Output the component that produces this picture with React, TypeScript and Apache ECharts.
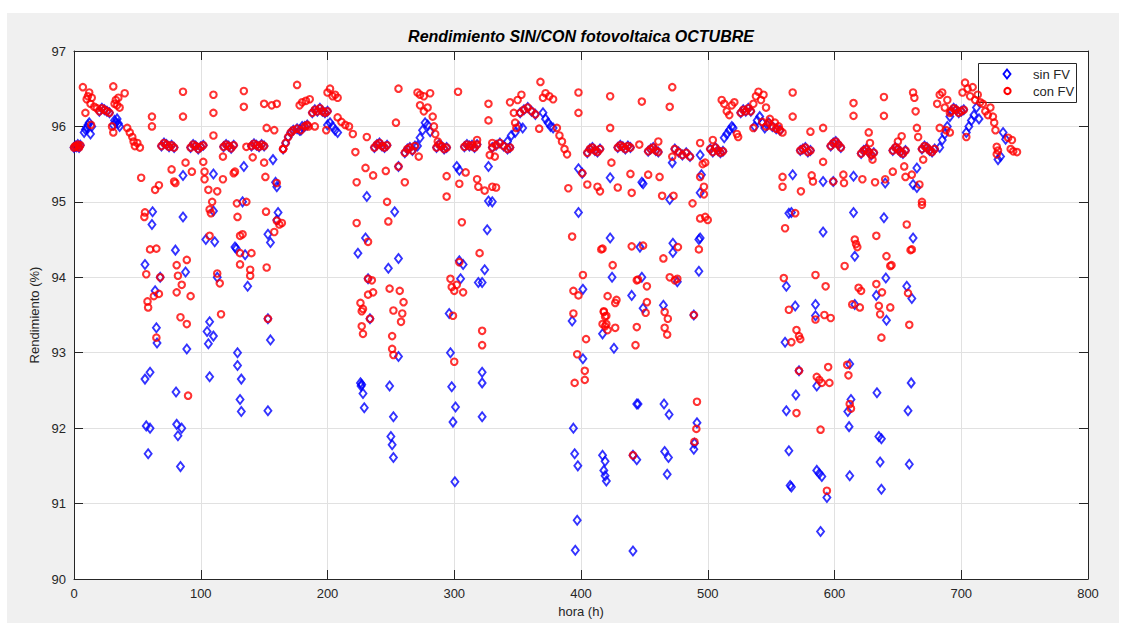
import React, { useEffect, useRef } from "react";
import * as echarts from "echarts";

// Axis definition
const X_MIN = 0, X_MAX = 800, X_STEP = 100;
const Y_MIN = 90, Y_MAX = 97, Y_STEP = 1;

const TITLE = "Rendimiento SIN/CON fotovoltaica OCTUBRE";
const X_NAME = "hora (h)";
const Y_NAME = "Rendimiento (%)";
const SERIES_NAMES = ["sin FV", "con FV"];

// Night-time hours: both series share the same value [hour, %]
const nocturno: [number, number][] = [
  [0, 95.72], [1, 95.74], [2, 95.73], [3, 95.76], [4, 95.72], [5, 95.75],
  [20, 96.2], [22, 96.24], [24, 96.22], [26, 96.2], [28, 96.18],
  [69, 95.74], [71, 95.78], [73, 95.76], [75, 95.73], [77, 95.75], [79, 95.72],
  [92, 95.72], [94, 95.76], [96, 95.74], [98, 95.7], [100, 95.73], [102, 95.75],
  [118, 95.73], [120, 95.76], [122, 95.74], [124, 95.71], [126, 95.75],
  [140, 95.74], [142, 95.77], [144, 95.75], [146, 95.73], [148, 95.76], [150, 95.74],
  [165, 95.7], [167, 95.78], [169, 95.86], [171, 95.92], [173, 95.95], [176, 95.97], [179, 95.95], [182, 96.0], [184, 96.02],
  [188, 96.18], [190, 96.22], [192, 96.2], [194, 96.24], [196, 96.2], [198, 96.18], [200, 96.2],
  [237, 95.72], [239, 95.76], [241, 95.78], [243, 95.74], [245, 95.72], [247, 95.75],
  [261, 95.65], [263, 95.7], [265, 95.72], [267, 95.68], [269, 95.74],
  [286, 95.72], [288, 95.76], [290, 95.74], [292, 95.7], [294, 95.72],
  [308, 95.73], [310, 95.76], [312, 95.74], [314, 95.75], [316, 95.72], [318, 95.76],
  [330, 95.72], [333, 95.75], [336, 95.78], [339, 95.74], [342, 95.7], [344, 95.72],
  [352, 96.18], [355, 96.22], [358, 96.25], [361, 96.2], [364, 96.16],
  [405, 95.65], [407, 95.7], [409, 95.72], [411, 95.68], [413, 95.66], [415, 95.7],
  [429, 95.72], [431, 95.75], [433, 95.73], [435, 95.7], [437, 95.74], [439, 95.72],
  [453, 95.67], [455, 95.7], [457, 95.72], [459, 95.68], [461, 95.66],
  [474, 95.7], [477, 95.66], [480, 95.62], [483, 95.65], [486, 95.6],
  [502, 95.7], [504, 95.66], [506, 95.72], [508, 95.68], [510, 95.65], [512, 95.67],
  [526, 96.18], [528, 96.22], [530, 96.2], [532, 96.24], [534, 96.2],
  [548, 96.05], [551, 96.0], [554, 95.97], [557, 95.95],
  [573, 95.68], [575, 95.7], [577, 95.72], [579, 95.66], [581, 95.68],
  [597, 95.74], [599, 95.78], [601, 95.8], [603, 95.76], [605, 95.72],
  [621, 95.64], [623, 95.68], [625, 95.7], [627, 95.66], [629, 95.62], [631, 95.65],
  [646, 95.68], [648, 95.72], [650, 95.7], [652, 95.66], [654, 95.64], [656, 95.68],
  [669, 95.7], [671, 95.74], [673, 95.72], [675, 95.68], [677, 95.66], [679, 95.7],
  [692, 96.2], [694, 96.24], [696, 96.22], [698, 96.18], [700, 96.2], [702, 96.22],
];

// Daytime values without photovoltaics (blue)
const sinFVDia: [number, number][] = [
  [8, 95.92], [9, 95.96], [10, 95.98], [11, 96.02], [12, 96.05], [13, 95.9], [14, 96.0],
  [31, 96.02], [32, 96.08], [33, 96.05], [34, 96.1], [35, 96.04], [36, 96.0],
  [62, 94.87], [61.5, 94.7], [56, 94.17], [68, 94.0], [64, 93.82], [65, 93.33], [65.5, 93.13],
  [56, 92.65], [60, 92.74], [57, 92.03], [60, 92.0], [58.5, 91.66],
  [86, 95.35], [86, 94.8], [80, 94.36], [88, 94.07], [89, 93.05], [80.5, 92.48], [81, 92.05], [85, 92.0], [82, 91.9], [84, 91.49],
  [110, 95.37], [110, 94.88], [104, 94.5], [111, 94.47], [113, 94.0], [107, 93.41], [105, 93.28], [110, 93.22], [106, 93.12], [107, 92.68],
  [127, 94.4], [134, 95.47], [133, 95.0], [128, 94.38], [135, 94.3], [137, 93.88], [129, 93.0], [129, 92.83], [132, 92.65], [131, 92.38], [132, 92.22],
  [157, 95.56], [159, 95.26], [160, 95.2], [153, 94.57], [155, 94.46], [161, 94.86], [160, 94.76], [153, 93.45], [155, 93.17], [153, 92.23],
  [178, 95.95], [180, 96.0], [200, 96.02], [202, 96.05], [204, 96.0], [206, 95.95], [208, 95.92],
  [231, 95.07], [230, 94.52], [253, 94.87], [224, 94.32], [256, 94.25], [248, 94.12], [232, 93.98], [233.5, 93.45], [256, 92.95],
  [226, 92.6], [226.5, 92.56], [227, 92.58], [228, 92.46], [229, 92.27], [249, 92.56], [252, 92.15], [250, 91.89], [251, 91.78], [252, 91.61],
  [256, 95.47], [271, 95.74], [273, 95.85], [275, 95.95], [277, 96.05], [279, 96.02], [281, 95.93],
  [302, 95.47], [304, 95.42], [304, 94.22], [307, 94.17], [305, 93.98], [319, 93.93], [322, 93.93], [324, 94.1], [296, 93.52], [297, 93.0],
  [322, 92.74], [322, 92.6], [298, 92.55], [301, 92.28], [299, 92.08], [322, 92.15], [300.5, 91.29],
  [326, 94.63], [327, 95.01], [330, 95.0], [327, 95.47], [342, 95.8], [345, 95.88], [348, 95.92], [351, 96.0], [354, 95.98],
  [370, 96.18], [372, 96.1], [374, 96.05], [376, 96.0], [378, 95.98],
  [398, 95.44], [401, 95.38], [398, 94.86], [401.5, 93.84], [393, 93.42], [401.5, 92.92], [394, 92.0], [395, 91.66], [397.5, 91.5], [397, 90.78], [395.5, 90.38],
  [417, 93.25], [423, 95.32], [423, 94.52], [424.5, 94.0], [426, 93.06], [417, 91.64], [419, 91.56], [418, 91.44], [419, 91.37], [420, 91.3],
  [440, 93.76], [446.5, 94.4], [448, 94.0], [449, 93.59], [448, 95.26], [449, 95.24], [444, 92.32], [445, 92.32], [441, 91.64], [444, 91.58], [441, 90.37],
  [470, 95.03], [472, 95.52], [472.5, 94.45], [472.5, 94.33], [476, 93.94], [465, 93.63], [465.5, 92.32], [469.5, 92.18], [466, 91.69], [469, 91.61], [468, 91.39],
  [494, 95.62], [495, 95.36], [494, 95.12], [493, 94.5], [494, 94.52], [493, 94.08], [489, 93.5], [491.5, 92.07], [489.5, 91.8], [489, 91.72],
  [513, 95.85], [515, 95.9], [517, 95.95], [519, 96.0], [520, 95.98],
  [537, 96.0], [539, 96.08], [541, 96.13], [543, 96.05], [545, 95.98], [547, 96.02],
  [564, 94.85], [567, 95.36], [566, 94.86], [562, 93.88], [569, 93.62], [561, 93.14], [585, 93.64], [585, 93.49], [586, 92.56], [569.5, 92.44],
  [562, 92.23], [564, 91.7], [586, 91.44], [588, 91.4], [590, 91.36], [565, 91.24], [566, 91.22], [594, 91.08], [589, 90.63],
  [591, 95.27], [599, 95.27], [591, 94.6], [572, 92.76],
  [615, 95.34], [615, 94.86], [616, 94.28], [640, 95.25], [639, 94.79], [640.5, 93.99], [633, 93.76], [616, 93.64], [641, 93.43], [633.5, 92.47],
  [613, 92.38], [610.5, 92.22], [611.5, 92.02], [612, 91.37], [635, 91.89], [637, 91.86], [636, 91.55], [637, 91.19], [612, 92.85],
  [662, 95.23], [665, 95.19], [665, 95.45], [662, 94.52], [657, 93.88], [661, 93.72], [660.5, 92.6], [658, 92.23], [659, 91.52],
  [683, 95.72], [685, 95.82], [687, 95.9], [689, 96.0], [691, 96.13],
  [704, 95.92], [706, 96.0], [708, 96.08], [710, 96.15], [712, 96.25], [714, 96.1],
  [733, 95.92], [735, 95.83], [729, 95.56], [731, 95.6],
];

// Daytime values with photovoltaics (red)
const conFVDia: [number, number][] = [
  [7, 96.52], [9, 96.18], [10, 96.36], [11, 96.4], [12, 96.45], [13, 96.3], [14, 96.38], [13.5, 96.02], [16, 96.26], [18, 96.24],
  [30, 96.0], [31, 95.92], [31, 96.53], [32, 96.3], [33, 96.35], [34, 96.28], [35, 96.38], [36, 96.25], [40, 96.44],
  [42, 95.98], [44, 95.92], [46, 95.86], [47, 95.8], [48, 95.74], [50, 95.78], [52, 95.72],
  [53, 95.32], [56, 94.86], [55.5, 94.8], [61.5, 96.0], [61.5, 96.13], [64, 95.16], [67, 95.22], [60, 94.37], [65, 94.38],
  [57, 94.04], [68, 94.0], [67, 93.78], [63, 93.75], [58, 93.68], [58.5, 93.6], [65, 93.2],
  [77, 95.43], [79, 95.27], [80, 95.25], [86, 96.46], [86, 96.13], [88, 95.52], [93, 95.4], [81, 94.16], [89, 94.23],
  [82, 94.02], [85, 93.9], [81, 93.8], [92, 93.75], [84, 93.47], [89, 93.38], [90, 92.43],
  [102, 95.53], [103, 95.4], [103, 95.3], [106, 95.16], [107, 94.9], [108, 94.85], [109, 95.0], [110, 96.42], [110, 96.18], [110, 95.88],
  [113, 95.14], [107, 94.55], [113, 94.05], [115, 93.92], [116, 93.51], [117.5, 95.3], [117.5, 95.6],
  [126, 95.38], [127, 95.4], [128.5, 94.98], [129, 94.8], [131, 94.55], [133, 94.57], [134, 96.47], [134, 96.26], [136, 95.73], [136, 95.0],
  [141, 95.59], [131, 94.32], [131, 94.17], [140, 94.32], [139, 94.1], [139, 94.02],
  [150, 95.52], [151, 95.33], [151.5, 94.87], [152, 94.13], [153, 93.45], [160, 95.25], [160, 94.75], [162, 94.7], [164, 94.72], [158, 94.6],
  [150, 96.3], [152, 95.98], [158, 95.95], [156, 96.28], [160, 96.3], [165, 95.7],
  [176, 96.55], [178, 96.28], [180, 96.32], [183, 96.34], [186, 96.36], [185, 96.0], [190, 96.0],
  [200, 96.45], [202, 96.5], [204, 96.4], [206, 96.42], [208, 96.38], [199, 95.95], [208, 96.12], [211, 96.06], [214, 96.02], [217, 96.0], [220, 95.9],
  [222, 95.66], [223, 95.26], [223, 94.72], [230, 95.45], [231, 95.86], [232, 94.47], [236, 95.35], [246, 95.41], [247, 95.0], [248, 94.74],
  [232, 93.98], [235, 93.96], [249, 93.85], [257, 93.82], [232, 93.77], [236, 93.8], [226, 93.66], [227, 93.55], [228, 93.58], [260, 93.67],
  [252, 93.56], [259, 93.52], [233.5, 93.45], [258, 93.41], [227, 93.35], [228, 93.25], [251, 93.22], [251, 93.05], [252, 92.97],
  [256, 96.5], [254, 96.05], [256, 95.47], [261, 95.26], [272, 95.6], [271, 96.45], [273, 96.42], [276, 96.4], [281, 96.44],
  [273, 96.28], [276, 96.2], [279, 96.25], [283, 96.13], [284, 96.0], [285, 95.9], [287, 95.8], [294, 95.34], [294, 95.07],
  [304, 94.2], [320, 94.32], [297, 93.98], [298, 93.87], [302, 93.9], [300, 93.82], [307, 93.8], [299, 93.49], [322, 93.29], [322, 93.1], [300, 92.88],
  [303, 96.46], [304, 95.24], [306, 94.73], [309, 95.39], [318, 95.82], [318, 95.3], [319, 95.2], [324, 95.15], [330, 95.2], [333, 95.19],
  [327, 96.3], [327, 96.08], [328, 95.62], [330, 95.78], [332, 95.6],
  [344, 96.32], [347, 96.18], [348, 96.05], [349, 95.98], [350, 96.35], [353, 96.42], [368, 96.59], [367, 95.97], [370, 96.38], [372, 96.44],
  [375, 96.4], [378, 96.36], [381, 95.98], [383, 95.88], [385, 95.8], [387, 95.7], [389, 95.63],
  [390, 95.18], [398, 96.45], [398, 96.18], [401, 95.38], [393, 94.54], [405, 95.23], [413, 95.2], [415, 95.14],
  [417, 94.38], [401.5, 94.03], [394, 93.82], [398, 93.76], [394, 93.52], [404, 93.18], [397, 92.98], [403, 92.76], [403, 92.64], [395, 92.6],
  [418, 93.55], [419, 93.48], [420, 93.38], [421, 93.3],
  [423, 96.4], [423, 95.98], [424, 95.52], [429, 95.19], [439, 95.37], [440, 95.12], [446, 95.76], [448, 96.33], [453, 95.36], [461, 95.8],
  [462, 95.33], [464, 95.08], [473, 95.08],
  [416, 94.37], [440, 94.41], [449, 94.42], [476.5, 94.4], [493, 94.37], [465, 94.25], [425, 94.16], [444, 93.96], [445, 93.97], [452, 93.88],
  [470, 94.0], [474, 93.96], [476, 93.98], [421, 93.75], [428, 93.7], [427, 93.66], [452, 93.67], [451, 93.53], [466, 93.54], [418, 93.54],
  [420, 93.49], [417, 93.38], [419, 93.35], [427, 93.33], [444, 93.34], [489, 93.5], [468.5, 93.45], [466, 93.33], [468, 93.24], [443, 93.1],
  [441, 91.64], [491.5, 92.35], [491, 91.99], [489.5, 91.82],
  [472, 96.52], [470, 96.26], [472, 95.6], [488, 94.98], [494, 95.78], [496, 95.5], [498, 95.52], [494, 95.33], [497, 95.2], [497, 95.1],
  [494, 94.78], [498, 94.8], [500, 94.76],
  [504, 95.82], [511, 96.35], [513, 96.3], [515, 96.2], [517, 96.15], [519, 96.28], [521, 96.32], [523, 95.9], [524, 95.86],
  [536, 96.3], [538, 96.4], [540, 96.46], [542, 96.35], [544, 96.42], [546, 96.25], [536, 95.98], [543, 96.06], [546, 96.0], [549, 96.1],
  [553, 96.05], [556, 96.0], [559, 95.92],
  [559, 95.33], [559, 95.2], [561, 94.65], [567, 96.45], [567, 96.13],
  [569, 94.85], [573.5, 95.14], [581, 95.93], [582, 95.35], [583, 95.27], [591, 95.98], [591, 95.53], [599, 95.27],
  [560, 93.99], [585, 94.03], [593, 93.88], [564, 93.57], [570, 93.3], [572, 93.22], [566, 93.14], [573, 93.18], [572, 92.76], [595, 92.81],
  [586, 92.68], [588, 92.64], [590, 92.6], [596, 92.6], [570, 92.2], [589, 91.98], [594, 91.17], [585, 93.44], [597, 93.46], [592, 93.5],
  [607, 95.36], [607.5, 95.25], [615, 96.31], [615, 96.14], [622, 95.3], [616, 94.5], [617, 94.44], [618, 94.4], [627, 95.92], [628, 95.78],
  [630, 95.56], [632, 95.26], [640, 95.3], [639, 96.39], [639, 96.14], [633, 94.55],
  [608, 94.15], [619, 93.86], [621, 93.82], [614, 93.64], [620, 93.6], [610, 92.84], [611, 92.7], [612, 92.32], [613, 92.26], [633, 93.91],
  [637.5, 93.8], [635, 93.62], [644, 93.6], [636, 93.51], [637, 93.2], [641, 94.28], [644, 94.15], [645, 94.16],
  [646, 95.4], [650, 95.8], [653, 95.87], [655, 95.47], [656, 95.33], [661, 95.36], [667, 95.23], [669, 95.0], [669, 94.96], [657, 94.7],
  [661, 94.37], [660, 94.36], [662, 96.45], [663, 96.38], [664, 96.2], [665, 95.98], [666, 95.86], [670, 95.56], [658, 93.79], [659, 93.37],
  [681, 96.3], [683, 96.42], [685, 96.45], [687, 96.25], [689, 96.35], [691, 96.18], [683, 95.98], [688, 95.95], [691, 95.92],
  [701, 96.45], [703, 96.58], [705, 96.5], [707, 96.4], [709, 96.52], [711, 96.35], [713, 96.42], [715, 96.32], [704, 95.86],
  [717, 96.3], [719, 96.2], [721, 96.15], [723, 96.25], [725, 96.13], [726, 96.05], [727, 95.95], [737, 95.85], [740, 95.82],
  [728, 95.73], [729, 95.68], [728, 95.63], [741, 95.67], [744, 95.66], [739, 95.7],
];

const FONT = '"Liberation Sans", Arial, sans-serif';
const AXIS_COLOR = "#262626";

export default function App() {
  const ref = useRef<HTMLDivElement>(null);

  useEffect(() => {
    document.body.style.margin = "0";
    if (!ref.current) return;
    const chart = echarts.init(ref.current, undefined, { renderer: "svg" });

    const axisCommon = {
      axisLine: { show: true, onZero: false, lineStyle: { color: AXIS_COLOR, width: 1 } },
      axisTick: { show: true, inside: true, length: 9, lineStyle: { color: AXIS_COLOR } },
    };

    const sinData = nocturno.concat(sinFVDia);
    const conData = nocturno.concat(conFVDia);

    chart.setOption({
      animation: false,
      backgroundColor: "transparent",
      textStyle: { fontFamily: FONT },
      grid: {
        left: 74, top: 51, width: 1014, height: 529,
        show: true, backgroundColor: "#ffffff", borderWidth: 0,
      },
      xAxis: [
        {
          type: "value", min: X_MIN, max: X_MAX, interval: X_STEP, position: "bottom",
          ...axisCommon,
          axisLabel: { color: AXIS_COLOR, fontSize: 13, margin: 8, fontFamily: FONT },
          splitLine: { show: true, lineStyle: { color: "#e1e1e1", width: 1 } },
          name: X_NAME, nameLocation: "middle", nameGap: 26,
          nameTextStyle: { color: AXIS_COLOR, fontSize: 13, fontFamily: FONT },
        },
        {
          type: "value", min: X_MIN, max: X_MAX, interval: X_STEP, position: "top",
          ...axisCommon,
          axisLabel: { show: false }, splitLine: { show: false },
        },
      ],
      yAxis: [
        {
          type: "value", min: Y_MIN, max: Y_MAX, interval: Y_STEP, position: "left",
          ...axisCommon,
          axisLabel: { color: AXIS_COLOR, fontSize: 13, margin: 8, fontFamily: FONT },
          splitLine: { show: true, lineStyle: { color: "#e1e1e1", width: 1 } },
          name: Y_NAME, nameLocation: "middle", nameGap: 25, nameRotate: 90,
          nameTextStyle: { color: AXIS_COLOR, fontSize: 13, fontFamily: FONT },
        },
        {
          type: "value", min: Y_MIN, max: Y_MAX, interval: Y_STEP, position: "right",
          ...axisCommon,
          axisLabel: { show: false }, splitLine: { show: false },
        },
      ],
      series: [
        {
          name: SERIES_NAMES[0], type: "scatter", xAxisIndex: 0, yAxisIndex: 0,
          symbol: "diamond", symbolSize: [7, 9],
          itemStyle: { color: "rgba(255,255,255,0)", borderColor: "#0000ff", borderWidth: 1.9 },
          data: sinData, z: 2,
        },
        {
          name: SERIES_NAMES[1], type: "scatter", xAxisIndex: 0, yAxisIndex: 0,
          symbol: "circle", symbolSize: 6.5,
          itemStyle: { color: "rgba(255,255,255,0)", borderColor: "#ff0000", borderWidth: 2.1 },
          data: conData, z: 3,
        },
      ],
      graphic: [
        {
          type: "text", x: 581, y: 36, z: 100,
          style: {
            text: TITLE, align: "center", verticalAlign: "middle",
            textAlign: "center", textVerticalAlign: "middle",
            fontSize: 16, fontWeight: "bold", fontStyle: "italic", fontFamily: FONT, fill: "#000",
          },
        },
        {
          type: "group", z: 100,
          children: [
            { type: "rect", shape: { x: 978.5, y: 63.5, width: 98, height: 39 },
              style: { fill: "#fff", stroke: AXIS_COLOR, lineWidth: 1 } },
            { type: "polygon", shape: { points: [[1007, 69.5], [1010.5, 74], [1007, 78.5], [1003.5, 74]] },
              style: { fill: "none", stroke: "#0000ff", lineWidth: 1.9 } },
            { type: "circle", shape: { cx: 1007.5, cy: 91, r: 3.1 },
              style: { fill: "none", stroke: "#ff0000", lineWidth: 2.1 } },
            { type: "text", x: 1033, y: 74,
              style: { text: SERIES_NAMES[0], verticalAlign: "middle", textVerticalAlign: "middle",
                fontSize: 13, fontFamily: FONT, fill: AXIS_COLOR } },
            { type: "text", x: 1033, y: 91,
              style: { text: SERIES_NAMES[1], verticalAlign: "middle", textVerticalAlign: "middle",
                fontSize: 13, fontFamily: FONT, fill: AXIS_COLOR } },
          ],
        },
      ],
    });

    return () => chart.dispose();
  }, []);

  return (
    <div style={{ position: "relative", width: 1126, height: 623, background: "#ffffff", overflow: "hidden" }}>
      <div style={{ position: "absolute", left: 7, top: 13, width: 1112, height: 610, background: "#f0f0f0" }} />
      <div ref={ref} style={{ position: "absolute", left: 0, top: 0, width: 1126, height: 623 }} />
    </div>
  );
}
